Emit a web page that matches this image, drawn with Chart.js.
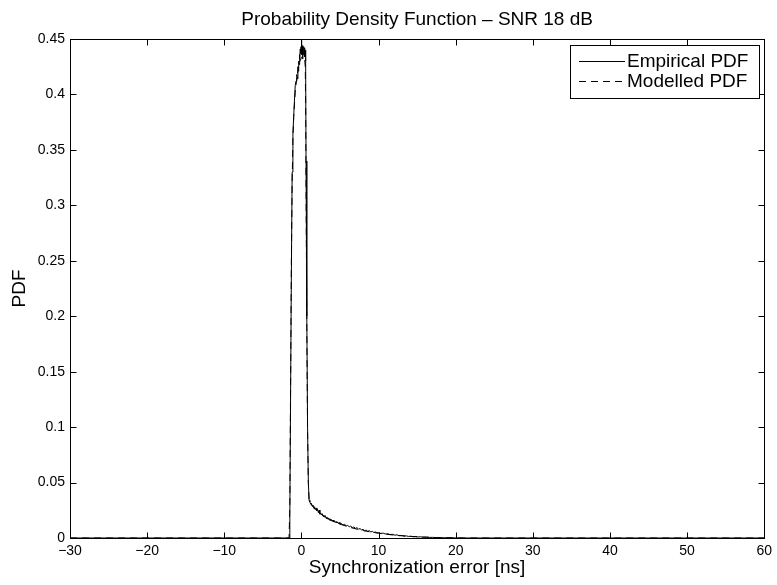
<!DOCTYPE html>
<html>
<head>
<meta charset="utf-8">
<script src="https://cdn.jsdelivr.net/npm/chart.js@4.4.1/dist/chart.umd.min.js"></script>
<style>
  html, body { margin: 0; padding: 0; background: #ffffff; }
  #wrap { width: 777px; height: 585px; }
</style>
</head>
<body>
<div id="wrap"><canvas id="c" width="777" height="585"></canvas></div>
<script>
// ---- data ----
const chartTitle = 'Probability Density Function \u2013 SNR 18 dB';
const xTitle = 'Synchronization error [ns]';
const yTitle = 'PDF';
const seriesNames = ['Empirical PDF', 'Modelled PDF'];

const xTicks = [-30, -20, -10, 0, 10, 20, 30, 40, 50, 60];
const xTickLabels = ['\u221230', '\u221220', '\u221210', '0', '10', '20', '30', '40', '50', '60'];
const yTicks = [0, 0.05, 0.1, 0.15, 0.2, 0.25, 0.3, 0.35, 0.4, 0.45];
const yTickLabels = ['0', '0.05', '0.1', '0.15', '0.2', '0.25', '0.3', '0.35', '0.4', '0.45'];

const empX = [-30, -1.6, -1.5, -1.4, -1.3, -1.2, -1.1, -1.0, -0.9, -0.8, -0.7, -0.6, -0.5, -0.45, -0.4, -0.35, -0.3, -0.25, -0.2, -0.15, -0.1, -0.05,
  0, 0.05, 0.1, 0.15, 0.2, 0.25, 0.3, 0.35, 0.4, 0.45, 0.5, 0.55, 0.6, 0.7, 0.8, 0.9, 1.0,
  1.1, 1.2, 1.3, 1.4, 1.5, 1.6, 1.7, 1.8, 1.9, 2.0, 2.1, 2.2, 2.3, 2.4, 2.5, 2.6, 2.7, 2.8, 2.9, 3.0,
  3.1, 3.2, 3.3, 3.4, 3.5, 3.6, 3.7, 3.8, 3.9, 4.0, 4.1, 4.2, 4.3, 4.4, 4.5, 4.6, 4.7, 4.8, 4.9, 5.0,
  5.2, 5.4, 5.6, 5.8, 6.0, 6.2, 6.4, 6.6, 6.8, 7.0, 7.2, 7.4, 7.6, 7.8, 8.0, 8.2, 8.4, 8.6, 8.8, 9.0,
  9.2, 9.4, 9.6, 9.8, 10.0, 10.3, 10.6, 10.9, 11.2, 11.5, 11.8, 12.1, 12.4, 12.7, 13.0, 13.3, 13.6, 13.9,
  14.2, 14.5, 14.8, 15.1, 15.4, 15.8, 16.2, 16.6, 17.0, 17.5, 18.0, 18.5, 19.0, 19.5, 20.0, 21, 60];
const empY = [0, 0, 0.02, 0.13, 0.24, 0.33, 0.365, 0.38, 0.395, 0.408, 0.412, 0.418, 0.414, 0.425, 0.421, 0.43, 0.427, 0.436, 0.432, 0.441, 0.437, 0.443,
  0.449, 0.436, 0.444, 0.432, 0.441, 0.436, 0.443, 0.438, 0.442, 0.434, 0.44, 0.43, 0.34, 0.2, 0.1, 0.05, 0.034,
  0.0325, 0.0305, 0.0312, 0.0288, 0.0296, 0.0268, 0.0282, 0.0255, 0.0271, 0.0246, 0.0258, 0.0228, 0.0252, 0.0215, 0.0226, 0.0208, 0.0219, 0.0196, 0.0207, 0.0188,
  0.0201, 0.0176, 0.0190, 0.0170, 0.0181, 0.0162, 0.0174, 0.0157, 0.0166, 0.0150, 0.0161, 0.0146, 0.0155, 0.0139, 0.0148, 0.0136, 0.0144, 0.0129, 0.0140, 0.0124,
  0.0131, 0.0117, 0.0125, 0.0108, 0.0114, 0.0101, 0.0107, 0.0094, 0.0100, 0.0087, 0.0093, 0.0080, 0.0085, 0.0073, 0.0078, 0.0066, 0.0071, 0.0060, 0.0066, 0.0055,
  0.0059, 0.0050, 0.0054, 0.0046, 0.0049, 0.0041, 0.0044, 0.0036, 0.0038, 0.0031, 0.0033, 0.0026, 0.0028, 0.0021, 0.0023, 0.0018, 0.0019, 0.0014,
  0.0016, 0.0011, 0.0013, 0.0009, 0.0011, 0.0007, 0.0008, 0.0005, 0.0006, 0.0003, 0.0004, 0.0002, 0.0002, 0.0001, 0.0001, 0, 0];

const modX = [-30, -1.6, -1.5, -1.4, -1.3, -1.2, -1.1, -1.0, -0.8, -0.6, -0.4, -0.2, 0, 0.2, 0.4, 0.5, 0.55, 0.6, 0.7, 0.8, 0.9, 1.0,
  1.5, 2, 3, 4, 5, 6, 7, 8, 9, 10, 11, 12, 13, 14, 15, 16, 17, 18, 20, 22, 60];
const modY = [0, 0, 0.03, 0.14, 0.25, 0.32, 0.36, 0.38, 0.402, 0.415, 0.424, 0.43, 0.433, 0.435, 0.434, 0.425, 0.39, 0.32, 0.19, 0.095, 0.05, 0.033,
  0.028, 0.0245, 0.019, 0.0155, 0.0125, 0.0102, 0.0083, 0.0067, 0.0054, 0.0043, 0.0034, 0.0026, 0.002, 0.0015, 0.0011, 0.0008, 0.0005, 0.0003, 0.0001, 0, 0];

// ---- chart ----
const FONT = '"Liberation Sans", Arial, Helvetica, sans-serif';
const toPts = (xs, ys) => xs.map((x, i) => ({ x: x, y: ys[i] }));

const framePlugin = {
  id: 'frame',
  afterDatasetsDraw(chart) {
    const { ctx, chartArea: a, scales } = chart;
    const L = Math.round(a.left) + 0.5, R = Math.round(a.right) + 0.5;
    const T = Math.round(a.top) + 0.5, B = Math.round(a.bottom) + 0.5;
    const tl = 6;
    ctx.save();
    ctx.strokeStyle = '#000';
    ctx.lineWidth = 1;
    ctx.setLineDash([]);
    ctx.strokeRect(L, T, R - L, B - T);
    ctx.beginPath();
    scales.x.ticks.forEach(t => {
      const px = Math.round(scales.x.getPixelForValue(t.value)) + 0.5;
      ctx.moveTo(px, B); ctx.lineTo(px, B - tl);
      ctx.moveTo(px, T); ctx.lineTo(px, T + tl);
    });
    scales.y.ticks.forEach(t => {
      const py = Math.round(scales.y.getPixelForValue(t.value)) + 0.5;
      ctx.moveTo(L, py); ctx.lineTo(L + tl, py);
      ctx.moveTo(R, py); ctx.lineTo(R - tl, py);
    });
    ctx.stroke();

    // legend box
    const bx = 570.5, by = 45.5, bw = 189, bh = 53;
    ctx.fillStyle = '#fff';
    ctx.fillRect(bx, by, bw, bh);
    ctx.strokeRect(bx, by, bw, bh);
    const rows = [61, 81];
    chart.data.datasets.forEach((ds, i) => {
      const y = rows[i] + 0.5;
      ctx.beginPath();
      ctx.strokeStyle = ds.borderColor;
      ctx.lineWidth = ds.borderWidth;
      ctx.setLineDash(ds.borderDash || []);
      ctx.moveTo(579, y); ctx.lineTo(625, y);
      ctx.stroke();
      ctx.setLineDash([]);
      ctx.fillStyle = '#000';
      ctx.font = '19px ' + FONT;
      ctx.textAlign = 'left';
      ctx.textBaseline = 'middle';
      ctx.fillText(ds.label, 627, rows[i] + 1);
    });
    ctx.restore();
  }
};

new Chart(document.getElementById('c'), {
  type: 'line',
  data: {
    datasets: [
      { label: seriesNames[0], data: toPts(empX, empY), borderColor: '#000', borderWidth: 1, pointRadius: 0, tension: 0, fill: false },
      { label: seriesNames[1], data: toPts(modX, modY), borderColor: '#000', borderWidth: 1, borderDash: [7, 5], pointRadius: 0, tension: 0, fill: false }
    ]
  },
  options: {
    responsive: false,
    animation: false,
    devicePixelRatio: 1,
    layout: { padding: { left: 0, right: 12, top: 0, bottom: 0 } },
    plugins: {
      legend: { display: false },
      tooltip: { enabled: false },
      title: {
        display: true, text: chartTitle, fullSize: false, color: '#000',
        font: { family: FONT, size: 19, weight: 'normal', lineHeight: 1.2 },
        padding: { top: 8.6, bottom: 7.6 }
      }
    },
    scales: {
      x: {
        type: 'linear', min: -30, max: 60,
        afterBuildTicks: s => { s.ticks = xTicks.map(v => ({ value: v })); },
        afterFit: s => { s.height = 47; },
        ticks: { color: '#000', padding: 5, maxRotation: 0, autoSkip: false,
          font: { family: FONT, size: 14 },
          callback: (v, i) => xTickLabels[i] },
        grid: { display: false, drawTicks: false },
        border: { display: false },
        title: { display: true, text: xTitle, color: '#000', font: { family: FONT, size: 19 }, padding: { top: 0, bottom: 5.6 } }
      },
      y: {
        type: 'linear', min: 0, max: 0.45,
        afterBuildTicks: s => { s.ticks = yTicks.map(v => ({ value: v })); },
        afterFit: s => { s.width = 70; },
        ticks: { color: '#000', padding: 5, autoSkip: false,
          font: { family: FONT, size: 14 },
          callback: (v, i) => yTickLabels[i] },
        grid: { display: false, drawTicks: false },
        border: { display: false },
        title: { display: true, text: yTitle, color: '#000', font: { family: FONT, size: 19 }, padding: { top: 8.6, bottom: 0 } }
      }
    }
  },
  plugins: [framePlugin]
});
</script>
</body>
</html>
